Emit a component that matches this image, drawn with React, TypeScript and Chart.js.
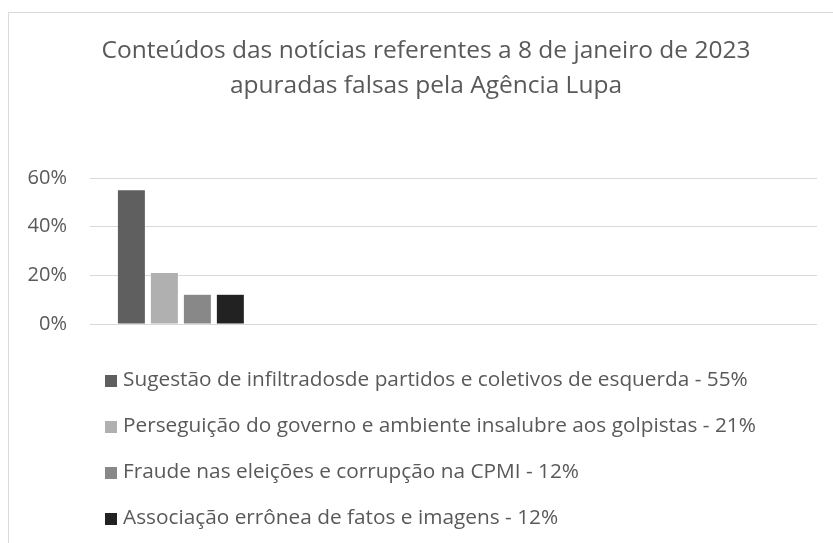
import React, { useEffect, useRef } from "react";
import { Chart, registerables } from "chart.js";

Chart.register(...registerables);

const titleLines = [
  "Conteúdos das notícias referentes a 8 de janeiro de 2023",
  "apuradas falsas pela Agência Lupa",
];
const categories = ["", " ", "  ", "   "];
const seriesLabels = [
  "Sugestão de infiltradosde partidos e coletivos de esquerda - 55%",
  "Perseguição do governo e ambiente insalubre aos golpistas - 21%",
  "Fraude nas eleições e corrupção na CPMI - 12%",
  "Associação errônea de fatos e imagens - 12%",
];
const seriesValues = [55, 21, 12, 12];
const seriesColors = ["#5f5f5f", "#b0b0b0", "#888888", "#222222"];
const yTicks = [0, 20, 40, 60];

const FONT = "'Open Sans', sans-serif";
const TEXT = "#595959";

const framePlugin = {
  id: "frame",
  beforeDraw(chart: any) {
    const { ctx, width, height } = chart;
    ctx.save();
    ctx.fillStyle = "#ffffff";
    ctx.fillRect(0, 0, width, height);
    ctx.strokeStyle = "#d9d9d9";
    ctx.lineWidth = 1;
    ctx.beginPath();
    ctx.moveTo(8.5, height);
    ctx.lineTo(8.5, 12.5);
    ctx.lineTo(width, 12.5);
    ctx.stroke();
    ctx.restore();
  },
  afterDraw(chart: any) {
    const { ctx, chartArea } = chart;
    ctx.save();
    // title
    ctx.fillStyle = TEXT;
    ctx.font = `24.5px ${FONT}`;
    ctx.textAlign = "center";
    ctx.textBaseline = "middle";
    titleLines.forEach((t, i) => ctx.fillText(t, 426, 51 + i * 35));
    // legend
    ctx.font = `20.8px ${FONT}`;
    ctx.textAlign = "left";
    chart.data.datasets.forEach((ds: any, i: number) => {
      const y = chartArea.bottom + 56 + i * 46;
      const x = chartArea.left + 15;
      ctx.fillStyle = ds.backgroundColor;
      ctx.fillRect(x, y - 5, 12, 12);
      ctx.fillStyle = TEXT;
      ctx.fillText(ds.label, x + 18, y);
    });
    ctx.restore();
  },
};

export default function App() {
  const ref = useRef<HTMLCanvasElement>(null);
  useEffect(() => {
    if (!ref.current) return;
    const datasets = seriesLabels.map((label, i) => ({
      label,
      data: categories.map((_, c) => (c === 0 ? seriesValues[i] : null)),
      backgroundColor: seriesColors[i],
      categoryPercentage: 0.726,
      barPercentage: 0.818,
    }));
    const chart = new Chart(ref.current, {
      type: "bar",
      data: { labels: categories, datasets },
      plugins: [framePlugin],
      options: {
        responsive: false,
        animation: false,
        devicePixelRatio: 1,
        layout: { padding: { top: 178, bottom: 219, left: 0, right: 16 } },
        plugins: {
          legend: { display: false },
          title: { display: false },
          tooltip: { enabled: false },
        },
        scales: {
          x: { display: false },
          y: {
            min: 0,
            max: 60,
            afterFit: (s: any) => {
              s.width = 90;
            },
            afterBuildTicks: (s: any) => {
              s.ticks = yTicks.map((v) => ({ value: v }));
            },
            border: { display: false },
            grid: { color: "#d9d9d9", lineWidth: 1, drawTicks: false },
            ticks: {
              padding: 23,
              color: TEXT,
              font: { family: FONT, size: 20 },
              callback: (v: any) => `${v}%`,
            },
          },
        },
      },
    });
    return () => chart.destroy();
  }, []);
  return (
    <div style={{ position: "fixed", left: 0, top: 0, width: 833, height: 543, background: "#fff" }}>
      <canvas ref={ref} width={833} height={543} />
    </div>
  );
}
